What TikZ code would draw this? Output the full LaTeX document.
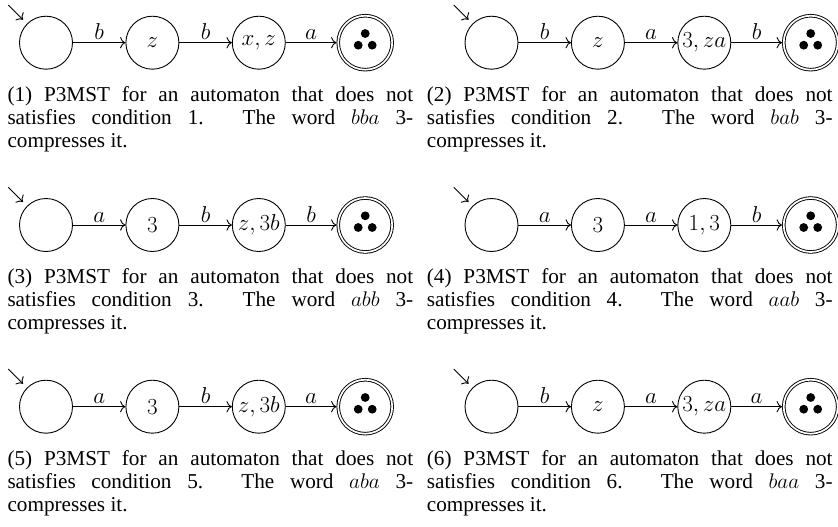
\RequirePackage{fix-cm}
\documentclass[tikz,border=0pt]{standalone}
\usepackage{fontspec}
\setmainfont{Liberation Serif}
\usetikzlibrary{arrows.meta}
\hbadness=10000
\newcommand\captext[3]{\vtop{\baselineskip=23pt\relax\hbox to 405.7pt{#1}\hbox to 405.7pt{#2}\hbox{#3}}}
\tikzset{
  every node/.style={font=\fontsize{23}{27}\selectfont},
  lw/.style={line width=0.9pt},
  stbox/.style={circle, draw, lw, minimum size=53pt, inner sep=0pt},
  accbox/.style={circle, draw, lw, double, double distance=1.7pt, minimum size=54pt, inner sep=0pt, outer sep=1.75pt},
  trans/.style={-{To[scale=1.5]}, lw},
  elabel/.style={anchor=south, inner sep=2.5pt},
  capbox/.style={anchor=base west, inner sep=0pt, font=\fontsize{21.2}{23}\selectfont},
  dotfill/.style={fill=black}
}
% #1 prefix, #2 x of first state, #3 y, #4-#6 state texts, #7-#9 edge labels
\newcommand\mkpanel[9]{%
  \node[stbox] (#1a) at (#2,#3) {};
  \node[stbox] (#1b) at (#2+106.4,#3) {$#4$};
  \node[stbox] (#1c) at (#2+212.8,#3) {$#5$};
  \node[accbox] (#1d) at (#2+319.2,#3) {};
  \fill[dotfill] ([shift={(0,9.2)}]#1d.center) circle (4.4);
  \fill[dotfill] ([shift={(-7,-2.5)}]#1d.center) circle (4.4);
  \fill[dotfill] ([shift={(7,-2.5)}]#1d.center) circle (4.4);
  \coordinate (#1s) at ([shift={(-37.7,37.7)}]#1a.center);
  \draw[trans, shorten >=5.5pt] (#1s) -- (#1a.135);
  \draw[trans] (#1a) -- node[elabel] {$#7$} (#1b);
  \draw[trans] (#1b) -- node[elabel] {$#8$} (#1c);
  \draw[trans] (#1c) -- node[elabel] {$#9$} (#1d);
}
\begin{document}
\begin{tikzpicture}[x=1pt,y=1pt]
\useasboundingbox (0,0) rectangle (838,-527);
\mkpanel{p1}{46}{-42.7}{z}{x,z}{}{b}{b}{a}
\mkpanel{p2}{491.5}{-42.7}{z}{3,za}{}{b}{a}{b}
\mkpanel{p3}{46}{-225}{3}{z,3b}{}{a}{b}{b}
\mkpanel{p4}{491.5}{-225}{3}{1,3}{}{a}{a}{b}
\mkpanel{p5}{46}{-406.7}{3}{z,3b}{}{a}{b}{a}
\mkpanel{p6}{491.5}{-406.7}{z}{3,za}{}{b}{a}{a}
\node[capbox] (c1) at (7.3,-101.2) {\captext{(1) P3MST for an automaton that does not}{satisfies condition 1. The word $bba$ 3-}{compresses it.}};
\node[capbox] (c2) at (426.7,-101.2) {\captext{(2) P3MST for an automaton that does not}{satisfies condition 2. The word $bab$ 3-}{compresses it.}};
\node[capbox] (c3) at (7.3,-283.5) {\captext{(3) P3MST for an automaton that does not}{satisfies condition 3. The word $abb$ 3-}{compresses it.}};
\node[capbox] (c4) at (426.7,-283.5) {\captext{(4) P3MST for an automaton that does not}{satisfies condition 4. The word $aab$ 3-}{compresses it.}};
\node[capbox] (c5) at (7.3,-465.2) {\captext{(5) P3MST for an automaton that does not}{satisfies condition 5. The word $aba$ 3-}{compresses it.}};
\node[capbox] (c6) at (426.7,-465.2) {\captext{(6) P3MST for an automaton that does not}{satisfies condition 6. The word $baa$ 3-}{compresses it.}};
\end{tikzpicture}
\end{document}
